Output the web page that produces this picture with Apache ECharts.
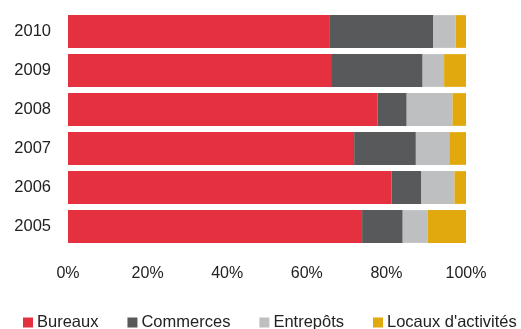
<!DOCTYPE html>
<html>
<head>
<meta charset="utf-8">
<script src="https://cdn.jsdelivr.net/npm/echarts@6/dist/echarts.min.js"></script>
<style>
  html, body { margin: 0; padding: 0; background: #fff; }
  #chart { width: 521px; height: 329px; }
</style>
</head>
<body>
<div id="chart"></div>
<script>
// Répartition par type de locaux (% du total), 2005–2010
const years = ['2005', '2006', '2007', '2008', '2009', '2010'];
const bureaux   = [73.9, 81.3, 71.9, 77.8, 66.1, 65.8];
const commerces = [10.2,  7.5, 15.5,  7.3, 23.0, 26.0];
const entrepots = [ 6.3,  8.3,  8.4, 11.5,  5.4,  5.6];
const locaux    = [ 9.6,  2.9,  4.2,  3.4,  5.5,  2.6];
const xTicks = ['0%', '20%', '40%', '60%', '80%', '100%'];

const seriesNames = ['Bureaux', 'Commerces', 'Entrepôts', "Locaux d'activités"];
const seriesData = [bureaux, commerces, entrepots, locaux];
const colors = ['#E5303F', '#58595B', '#BEBFC1', '#E2A90F'];

const chart = echarts.init(document.getElementById('chart'));
chart.setOption({
  animation: false,
  textStyle: { fontFamily: 'Liberation Sans, Arial, sans-serif' },
  grid: { left: 68, right: 55, top: 12, height: 234 },
  legend: {
    data: seriesNames,
    top: 314,
    left: 23,
    padding: 0,
    itemWidth: 10,
    itemHeight: 10,
    itemGap: 29,
    icon: 'rect',
    textStyle: { fontSize: 16.5, color: '#222', padding: [0, 0, 0, -1] }
  },
  xAxis: {
    type: 'value',
    min: 0,
    max: 100,
    interval: 20,
    splitLine: { show: false },
    axisLine: { show: false },
    axisTick: { show: false },
    axisLabel: {
      fontSize: 16,
      color: '#222',
      margin: 20,
      formatter: v => xTicks[Math.round(v / 20)]
    }
  },
  yAxis: {
    type: 'category',
    data: years,
    axisLine: { show: false },
    axisTick: { show: false },
    axisLabel: { fontSize: 16.5, color: '#222', margin: 17 }
  },
  series: seriesNames.map((name, i) => ({
    name,
    type: 'bar',
    stack: 'total',
    barWidth: '84%',
    itemStyle: { color: colors[i] },
    data: seriesData[i]
  }))
});
</script>
</body>
</html>
